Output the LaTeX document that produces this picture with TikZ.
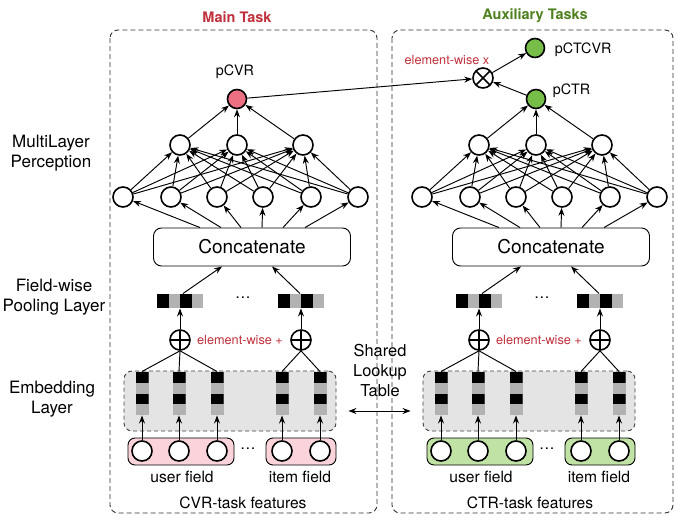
\documentclass[tikz,border=0pt]{standalone}
\usepackage{fontspec}
\setmainfont{TeX Gyre Heros}
\usetikzlibrary{positioning, arrows.meta}

\definecolor{pinkout}{RGB}{236,112,130}
\definecolor{greenout}{RGB}{118,190,72}
\definecolor{pinkbox}{RGB}{250,212,218}
\definecolor{greenbox}{RGB}{192,226,165}
\definecolor{embgray}{RGB}{228,228,228}
\definecolor{cellgray}{RGB}{178,178,178}
\definecolor{taskred}{RGB}{192,48,60}
\definecolor{taskgreen}{RGB}{78,128,30}

\begin{document}
\begin{tikzpicture}[
      x=1pt,y=-1pt,
      ->,>={Stealth[length=8pt,width=6pt]},
      line width=0.95pt,
      neuron/.style={circle,draw,line width=1.6pt,fill=white,minimum size=20pt,inner sep=0pt},
      outnode/.style={neuron,minimum size=19pt},
      oplus/.style={neuron,path picture={\draw[-,line width=1.6pt]
          (path picture bounding box.north) -- (path picture bounding box.south)
          (path picture bounding box.west) -- (path picture bounding box.east);}},
      otimes/.style={neuron,path picture={\draw[-,line width=1.6pt]
          (path picture bounding box.north west) -- (path picture bounding box.south east)
          (path picture bounding box.south west) -- (path picture bounding box.north east);}},
      column/.style={minimum width=13pt,minimum height=43pt,inner sep=0pt,fill=cellgray,
        path picture={\fill[black] (path picture bounding box.north west) rectangle ([yshift=-11pt]path picture bounding box.north east);
          \fill[black] ([yshift=-22pt]path picture bounding box.north west) rectangle ([yshift=-32pt]path picture bounding box.north east);}},
      rowvec/.style={minimum width=46pt,minimum height=14pt,inner sep=0pt,fill=cellgray,
        path picture={\fill[black] (path picture bounding box.south west) rectangle ([xshift=11.5pt]path picture bounding box.north west);
          \fill[black] ([xshift=23pt]path picture bounding box.south west) rectangle ([xshift=34.5pt]path picture bounding box.north west);}},
      embbox/.style={draw=black!75,dash pattern=on 4pt off 3pt,rounded corners=8pt,fill=embgray,
        minimum width=212pt,minimum height=60pt,line width=0.9pt},
      field/.style={draw,rounded corners=7pt,minimum height=27pt,line width=0.9pt},
      concat/.style={draw,rounded corners=8pt,minimum width=197pt,minimum height=38pt,line width=0.9pt,
        font=\fontsize{19}{22}\selectfont},
      panel/.style={-,draw=black!80,dash pattern=on 5pt off 3pt,rounded corners=8pt,line width=0.9pt},
      sidelbl/.style={align=center,font=\fontsize{17}{20}\selectfont},
      lbl/.style={font=\fontsize{15.6}{18}\selectfont},
      redlbl/.style={text=taskred,font=\fontsize{12.7}{15}\selectfont},
      title/.style={font=\fontsize{14.5}{17}\selectfont\bfseries}
    ]
    \useasboundingbox (0,0) rectangle (689,525);

    % task panels
    \draw[panel] (110,30) rectangle (377,513);
    \draw[panel] (392,30) rectangle (673,513);
    \node[title,text=taskred] (main) at (237,17) {Main Task};
    \node[title,text=taskgreen] (aux) at (535,16) {Auxiliary Tasks};

    % layer names
    \node[sidelbl] (mlp) at (51,153) {MultiLayer\\Perception};
    \node[sidelbl] (pool) at (54,297) {Field-wise\\Pooling Layer};
    \node[sidelbl] (embl) at (52,399) {Embedding\\Layer};
    \node[sidelbl,font=\fontsize{16.4}{20}\selectfont] (shared) at (380,370) {Shared\\Lookup\\Table};

    \foreach \p/\dx/\fcol/\ocol in {L/0/pinkbox/pinkout, R/299/greenbox/greenout}{
    \begin{scope}[xshift=\dx pt]
      % input fields
      \node[field,fill=\fcol,minimum width=106pt] (\p-uf) at (181,451.5) {};
      \node[field,fill=\fcol,minimum width=70pt] (\p-if) at (301,451.5) {};
      \node[lbl] (\p-fdots) at (248,449) {\dots};
      \node[lbl] (\p-ulbl) at (182,477) {user field};
      \node[lbl] (\p-ilbl) at (300,477) {item field};

      % embedding layer
      \node[embbox] (\p-emb) at (230,401) {};
      \foreach \i/\x in {1/142,2/179,3/217,4/282,5/320}{
        \node[neuron] (\p-in\i) at (\x,451) {};
        \node[column] (\p-e\i) at (\x,393.5) {};
        \draw (\p-in\i) -- (\p-e\i);
      }

      % field-wise pooling
      \node[oplus] (\p-s1) at (180,340) {};
      \node[oplus] (\p-s2) at (301,340) {};
      \foreach \i in {1,2,3} \draw[-] (\p-e\i.north) -- (\p-s1.south);
      \foreach \i in {4,5} \draw[-] (\p-e\i.north) -- (\p-s2.south);
      \node[redlbl] (\p-add) at (240,340) {element-wise +};
      \node[rowvec] (\p-v1) at (180,301) {};
      \node[rowvec] (\p-v2) at (301,301) {};
      \node[lbl] (\p-vdots) at (243,298) {\dots};
      \draw (\p-s1) -- (\p-v1);
      \draw (\p-s2) -- (\p-v2);

      \node[concat] (\p-cat) at (252,247) {Concatenate};
      \draw ([xshift=3pt]\p-v1.north) -- ([xshift=-30pt]\p-cat.south);
      \draw ([xshift=-1pt]\p-v2.north) -- ([xshift=20pt]\p-cat.south);

      % multilayer perception
      \foreach \i/\x/\s in {1/123/-52,2/171/-31,3/217/-11,4/263/10,5/311/31,6/358/53}{
        \node[neuron] (\p-b\i) at (\x,197) {};
        \draw ([xshift=\s pt]\p-cat.north) -- (\p-b\i);
      }
      \foreach \j/\x in {1/180,2/237,3/303}{
        \node[neuron] (\p-h\j) at (\x,145) {};
        \foreach \i in {1,...,6} \draw (\p-b\i) -- (\p-h\j);
      }
      \node[outnode,fill=\ocol] (\p-out) at (237,99) {};
      \foreach \j in {1,2,3} \draw (\p-h\j) -- (\p-out);
    \end{scope}
    }

    \node[lbl] (cvrf) at (243,503) {CVR-task features};
    \node[lbl] (ctrf) at (530,503) {CTR-task features};

    % outputs
    \node[lbl,font=\fontsize{14.3}{17}\selectfont] (pcvr) at (235,72) {pCVR};
    \node[lbl,font=\fontsize{14.3}{17}\selectfont,anchor=west] (pctr) at (549,91) {pCTR};
    \node[outnode,fill=greenout] (pctcvr) at (535,48) {};
    \node[lbl,font=\fontsize{14.3}{17}\selectfont,anchor=west] (pctcvrl) at (551,50) {pCTCVR};
    \node[otimes] (mul) at (483,78) {};
    \node[redlbl] (mull) at (447,60) {element-wise x};
    \draw (L-out) -- (mul);
    \draw (R-out) -- (mul);
    \draw (mul) -- (pctcvr);

    \draw[<->,shorten <=12pt,shorten >=12pt] ([yshift=-10pt]L-emb.east) -- ([yshift=-10pt]R-emb.west);
  \end{tikzpicture}
\end{document}
